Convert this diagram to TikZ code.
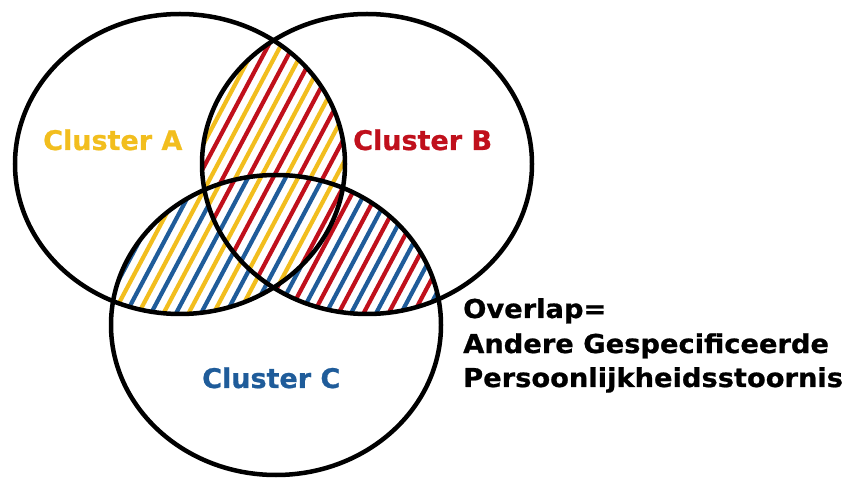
\documentclass[tikz,border=0pt]{standalone}
\usepackage{fontspec}
\setmainfont{DejaVu Sans}
\newfontfamily\heavy[FakeBold=0.8]{DejaVu Sans Bold}
\newfontfamily\heavywide[FakeBold=0.8,FakeStretch=1.05]{DejaVu Sans Bold}
\definecolor{cy}{HTML}{F2BE1E}
\definecolor{cr}{HTML}{C0101C}
\definecolor{cb}{HTML}{1F5C9A}
\begin{document}
\begin{tikzpicture}[x=1pt,y=-1pt,
  stripe/.style={line width=4.2pt},
  ring/.style={line width=4.5pt, draw=black},
  lbl/.style={inner sep=0pt, anchor=base west, font=\heavy\fontsize{27}{32}\selectfont},
  txt/.style={inner sep=0pt, anchor=base west, font=\heavywide\fontsize{26}{32}\selectfont, text=black}]
\useasboundingbox (0,0) rectangle (849,478);
% A and B only
\begin{scope}[even odd rule]
  \clip (180,164) ellipse [x radius=165, y radius=150];
  \clip (367,164) ellipse [x radius=165, y radius=150];
  \clip (276,325) ellipse [x radius=165, y radius=150] (-10,-10) rectangle (860,490);
  \foreach \i in {0,...,34} {
    \draw[stripe,cy] ({-200+25*\i},480) -- ++(255,-480);
    \draw[stripe,cr] ({-187.5+25*\i},480) -- ++(255,-480);
  }
\end{scope}
% A and C only
\begin{scope}[even odd rule]
  \clip (180,164) ellipse [x radius=165, y radius=150];
  \clip (276,325) ellipse [x radius=165, y radius=150];
  \clip (367,164) ellipse [x radius=165, y radius=150] (-10,-10) rectangle (860,490);
  \foreach \i in {0,...,34} {
    \draw[stripe,cy] ({-200+25*\i},480) -- ++(255,-480);
    \draw[stripe,cb] ({-187.5+25*\i},480) -- ++(255,-480);
  }
\end{scope}
% B and C only
\begin{scope}[even odd rule]
  \clip (367,164) ellipse [x radius=165, y radius=150];
  \clip (276,325) ellipse [x radius=165, y radius=150];
  \clip (180,164) ellipse [x radius=165, y radius=150] (-10,-10) rectangle (860,490);
  \foreach \i in {0,...,34} {
    \draw[stripe,cr] ({-200+25*\i},480) -- ++(255,-480);
    \draw[stripe,cb] ({-187.5+25*\i},480) -- ++(255,-480);
  }
\end{scope}
% A, B and C
\begin{scope}
  \clip (180,164) ellipse [x radius=165, y radius=150];
  \clip (367,164) ellipse [x radius=165, y radius=150];
  \clip (276,325) ellipse [x radius=165, y radius=150];
  \foreach \i in {0,...,23} {
    \draw[stripe,cy] ({-200+37.5*\i},480) -- ++(255,-480);
    \draw[stripe,cr] ({-187.5+37.5*\i},480) -- ++(255,-480);
    \draw[stripe,cb] ({-175+37.5*\i},480) -- ++(255,-480);
  }
\end{scope}
% circles
\draw[ring] (180,164) ellipse [x radius=165, y radius=150];
\draw[ring] (367,164) ellipse [x radius=165, y radius=150];
\draw[ring] (276,325) ellipse [x radius=165, y radius=150];
% labels
\node[lbl, text=cy] (la) at (43,150) {Cluster A};
\node[lbl, text=cr] (lb) at (353,150) {Cluster B};
\node[lbl, text=cb] (lc) at (202,388) {Cluster C};
\node[txt] (t1) at (463,318) {Overlap=};
\node[txt] (t2) at (463,353) {Andere Gespecificeerde};
\node[txt] (t3) at (463,387) {Persoonlijkheidsstoornis};
\end{tikzpicture}
\end{document}
